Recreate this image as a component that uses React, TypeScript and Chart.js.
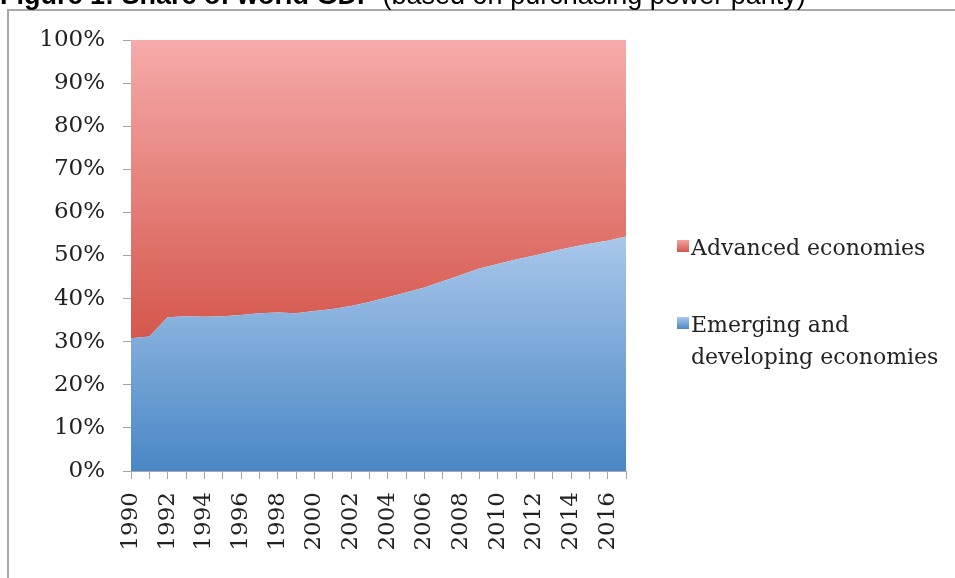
import { useEffect, useRef } from "react";
import { Chart, registerables } from "chart.js";

Chart.register(...registerables);

const years = [
  "1990", "1991", "1992", "1993", "1994", "1995", "1996", "1997", "1998", "1999",
  "2000", "2001", "2002", "2003", "2004", "2005", "2006", "2007", "2008", "2009",
  "2010", "2011", "2012", "2013", "2014", "2015", "2016", "2017",
];

const emerging = [
  30.8, 31.2, 35.7, 35.9, 35.8, 35.9, 36.2, 36.6, 36.8, 36.6,
  37.1, 37.6, 38.3, 39.2, 40.3, 41.4, 42.6, 44.0, 45.5, 47.0,
  48.0, 49.1, 50.0, 51.0, 51.9, 52.7, 53.4, 54.4,
];

const advanced = [
  69.2, 68.8, 64.3, 64.1, 64.2, 64.1, 63.8, 63.4, 63.2, 63.4,
  62.9, 62.4, 61.7, 60.8, 59.7, 58.6, 57.4, 56.0, 54.5, 53.0,
  52.0, 50.9, 50.0, 49.0, 48.1, 47.3, 46.6, 45.6,
];

const seriesNames = ["Advanced economies", "Emerging and developing economies"];
const legendLines = [["Advanced economies"], ["Emerging and", "developing economies"]];
const titleBold = "Figure 1: Share of world GDP";
const titleRest = "(based on purchasing power parity)";

const SERIF = '"DejaVu Serif", serif';
const TEXT = "#222222";
const AXIS = "#a6a6a6";

function vGrad(chart: any, v1: number, c1: string, v2: number, c2: string) {
  const y = chart.scales.y;
  const g = chart.ctx.createLinearGradient(0, y.getPixelForValue(v1), 0, y.getPixelForValue(v2));
  g.addColorStop(0, c1);
  g.addColorStop(1, c2);
  return g;
}

const redFill = (c: any) => {
  const ch = c.chart;
  if (!ch.chartArea || !ch.scales.y) return "#de6e66";
  return vGrad(ch, 100, "#f6abaa", 30, "#d4564b");
};
const blueFill = (c: any) => {
  const ch = c.chart;
  if (!ch.chartArea || !ch.scales.y) return "#7aa6d8";
  return vGrad(ch, 55, "#aac8eb", 0, "#4a87c5");
};

const decorPlugin = {
  id: "decor",
  beforeDraw(chart: any) {
    const ctx = chart.ctx;
    ctx.save();
    ctx.fillStyle = "#ffffff";
    ctx.fillRect(0, 0, chart.width, chart.height);
    ctx.fillStyle = "#aaaaaa";
    ctx.fillRect(7, 9, chart.width, 2);
    ctx.fillRect(7, 9, 2, chart.height);
    ctx.restore();
  },
  afterDraw(chart: any) {
    const ctx = chart.ctx;
    ctx.save();
    ctx.fillStyle = "#000000";
    ctx.textBaseline = "alphabetic";
    ctx.textAlign = "left";
    ctx.font = 'bold 27px "Liberation Sans", Arial, sans-serif';
    ctx.fillText(titleBold, 0, 4);
    const w = ctx.measureText(titleBold + " ").width;
    ctx.font = '27px "Liberation Sans", Arial, sans-serif';
    ctx.fillText(titleRest, w, 4);

    const items = [
      { lines: legendLines[0], top: 240, base: 255, c1: "#f2a3a2", c2: "#d4564b" },
      { lines: legendLines[1], top: 317, base: 332, c1: "#aac8eb", c2: "#4a87c5" },
    ];
    items.forEach((it) => {
      const g = ctx.createLinearGradient(0, it.top, 0, it.top + 12);
      g.addColorStop(0, it.c1);
      g.addColorStop(1, it.c2);
      ctx.fillStyle = g;
      ctx.fillRect(677, it.top, 12, 12);
      ctx.fillStyle = TEXT;
      ctx.font = "22px " + SERIF;
      it.lines.forEach((ln, i) => ctx.fillText(ln, 691, it.base + i * 32));
    });
    ctx.restore();
  },
};

export default function App() {
  const ref = useRef<HTMLCanvasElement>(null);
  useEffect(() => {
    const canvas = ref.current!;
    const chart = new Chart(canvas, {
      type: "line",
      data: {
        labels: years,
        datasets: [
          {
            label: seriesNames[1],
            data: emerging,
            fill: "origin",
            backgroundColor: blueFill,
            borderColor: "rgba(0,0,0,0)",
            borderWidth: 0,
            pointRadius: 0,
            tension: 0,
          },
          {
            label: seriesNames[0],
            data: advanced,
            fill: "-1",
            backgroundColor: redFill,
            borderColor: "rgba(0,0,0,0)",
            borderWidth: 0,
            pointRadius: 0,
            tension: 0,
          },
        ],
      },
      options: {
        responsive: false,
        animation: false,
        devicePixelRatio: 1,
        layout: { padding: { left: 0, top: 40, right: 329, bottom: 0 } },
        plugins: {
          legend: { display: false },
          tooltip: { enabled: false },
        },
        scales: {
          x: {
            type: "category",
            offset: false,
            grid: { display: true, drawOnChartArea: false, drawTicks: true, tickLength: 8, color: AXIS },
            border: { display: true, color: AXIS, width: 1 },
            ticks: {
              autoSkip: false,
              maxRotation: 90,
              minRotation: 90,
              padding: 13,
              color: TEXT,
              font: { family: SERIF, size: 23 },
              callback: function (this: any, value: any, index: number) {
                return index % 2 === 0 ? this.getLabelForValue(value) : "";
              },
            },
            afterFit: (s: any) => {
              s.height = 107;
            },
          },
          y: {
            stacked: true,
            min: 0,
            max: 100,
            grid: { display: true, drawOnChartArea: false, drawTicks: true, tickLength: 8, color: AXIS },
            border: { display: true, color: AXIS, width: 1 },
            ticks: {
              stepSize: 10,
              padding: 18,
              color: TEXT,
              font: { family: SERIF, size: 23 },
              callback: (v: any) => v + "%",
            },
            afterFit: (s: any) => {
              s.width = 131;
            },
          },
        },
      },
      plugins: [decorPlugin],
    });
    return () => chart.destroy();
  }, []);
  return (
    <div style={{ position: "fixed", left: 0, top: 0, width: 955, height: 578, overflow: "hidden", background: "#fff" }}>
      <canvas ref={ref} width={955} height={578} style={{ display: "block", width: 955, height: 578 }} />
    </div>
  );
}
